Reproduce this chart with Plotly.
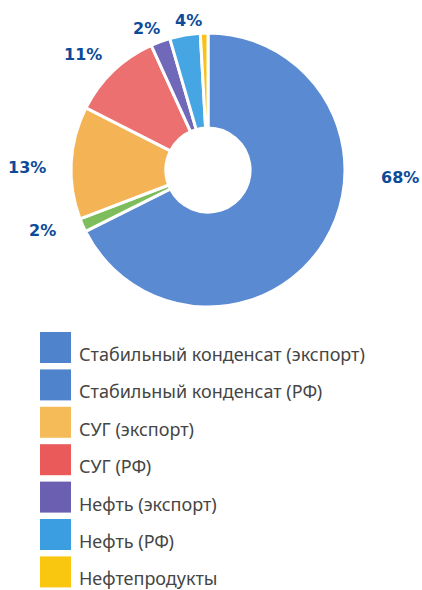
import plotly.graph_objects as go

# slices, clockwise from 12 o'clock
categories = [
    "Стабильный конденсат (экспорт)",
    "Стабильный конденсат (РФ)",
    "СУГ (экспорт)",
    "СУГ (РФ)",
    "Нефть (экспорт)",
    "Нефть (РФ)",
    "Нефтепродукты",
]
shares = [67.6, 1.6, 13.3, 10.7, 2.3, 3.6, 0.9]
share_labels = ["68%", "2%", "13%", "11%", "2%", "4%", ""]
slice_colors = ["#5a8bd2", "#7dbd5c", "#f4b456", "#ec7070", "#7068b8", "#46a6e4", "#f8c21a"]
legend_colors = ["#4f84cc", "#4f84cc", "#f5bb58", "#ea5a5a", "#6a5fb0", "#3a9ee0", "#f9c610"]

W, H = 422, 590


def px(x):
    return x / W


def py(y):
    return 1 - y / H


fig = go.Figure()
fig.add_trace(
    go.Pie(
        labels=categories,
        values=shares,
        sort=False,
        direction="clockwise",
        rotation=0,
        hole=0.307,
        marker=dict(colors=slice_colors, line=dict(color="white", width=3)),
        textinfo="none",
        hoverinfo="label+percent",
        showlegend=False,
        domain=dict(x=[px(71), px(345)], y=[py(307), py(33)]),
    )
)

# percentage labels around the ring
label_pos = [(400, 177), (42, 231), (27, 167), (83, 55), (146, 28), (188, 21)]
for (x, y), txt in zip(label_pos, share_labels):
    fig.add_annotation(
        x=px(x), y=py(y), xref="paper", yref="paper", text=f"<b>{txt}</b>",
        showarrow=False, xanchor="center", yanchor="middle",
        font=dict(family="DejaVu Sans", size=16, color="#0d4a98"),
    )

# legend drawn by hand (the second entry is blue in the original key)
row_top = 332
row_step = 37.4
for i, (name, col) in enumerate(zip(categories, legend_colors)):
    top = row_top + i * row_step
    fig.add_shape(
        type="rect", xref="paper", yref="paper",
        x0=px(40), x1=px(71), y0=py(top + 31), y1=py(top),
        fillcolor=col, line=dict(width=0),
    )
    fig.add_annotation(
        x=px(77), y=py(top + 22), xref="paper", yref="paper", text=name,
        showarrow=False, xanchor="left", yanchor="middle",
        font=dict(family="Noto Sans", size=18, color="#454545"),
    )

fig.update_layout(
    width=W, height=H,
    margin=dict(l=0, r=0, t=0, b=0),
    paper_bgcolor="white",
    plot_bgcolor="white",
)

fig.write_html(
    "out.html",
    config={"displayModeBar": False},
    post_script="document.body.style.margin='0';",
)
